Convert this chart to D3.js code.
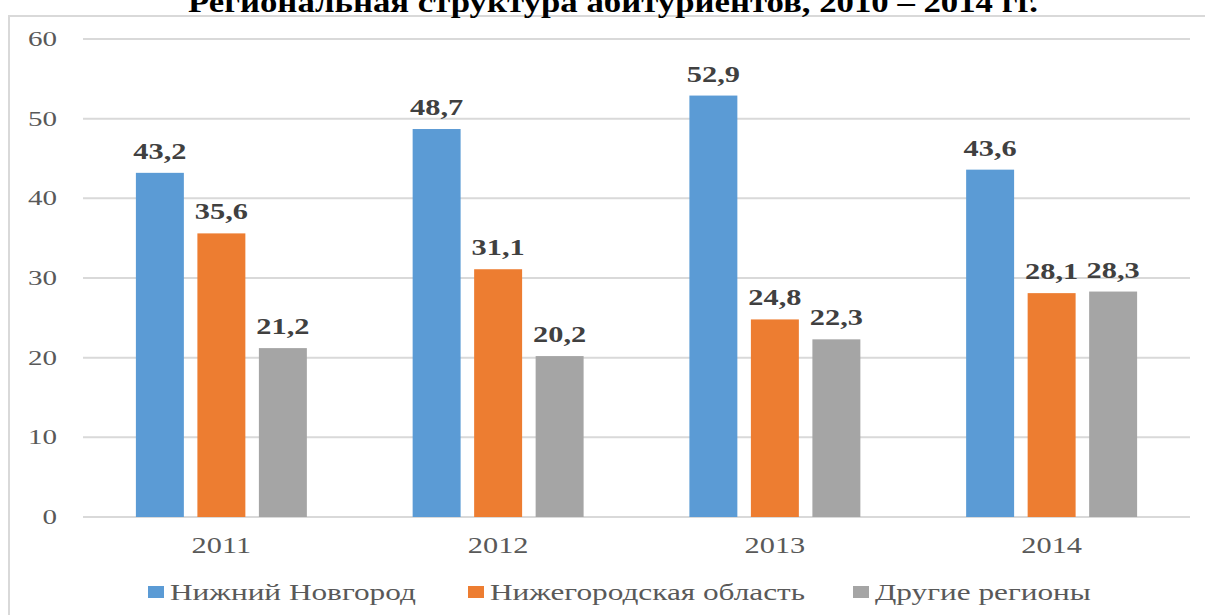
<!DOCTYPE html>
<html>
<head>
<meta charset="utf-8">
<script src="https://cdn.jsdelivr.net/npm/d3@7"></script>
<style>
  body { margin: 0; background: #fff; }
  text { font-family: "Liberation Serif", "Times New Roman", serif; }
</style>
</head>
<body>
<div id="chart"></div>
<script>
const svgWidth = 1205
const svgHeight = 615

const years = ["2011", "2012", "2013", "2014"]
const seriesNames = ["Нижний Новгород", "Нижегородская область", "Другие регионы"]
const nizhnyValues = [43.2, 48.7, 52.9, 43.6]
const oblastValues = [35.6, 31.1, 24.8, 28.1]
const otherValues = [21.2, 20.2, 22.3, 28.3]
const yTicks = [0, 10, 20, 30, 40, 50, 60]
const title = "Региональная структура абитуриентов, 2010 – 2014 гг."

const colors = ["#5B9BD5", "#ED7D31", "#A5A5A5"]
const values = [nizhnyValues, oblastValues, otherValues]

// the picture is stretched sideways, so text gets a horizontal scale
const stretch = 1.32

let plot = { left: 83, right: 1190, top: 39, bottom: 517 }

let svg = d3.select("#chart")
  .append("svg")
  .attr("width", svgWidth)
  .attr("height", svgHeight)

// outer frame (right and bottom edges are off the picture)
svg.append("rect")
  .attr("x", 9)
  .attr("y", 16)
  .attr("width", 1400)
  .attr("height", 800)
  .attr("fill", "none")
  .attr("stroke", "#D9D9D9")
  .attr("stroke-width", 2)

// title, cut off at the top like in the source
svg.append("text")
  .attr("x", 188)
  .attr("y", 12)
  .attr("textLength", 850)
  .attr("lengthAdjust", "spacingAndGlyphs")
  .attr("font-size", "30px")
  .attr("font-weight", "bold")
  .attr("fill", "#000")
  .text(title)

let x0 = d3.scaleBand()
  .domain(years)
  .range([plot.left, plot.right])

let x1 = d3.scaleBand()
  .domain(seriesNames)
  .range([0, x0.bandwidth()])
  .paddingInner(0.22)
  .paddingOuter(0.86)

let y = d3.scaleLinear()
  .domain([0, 60])
  .range([plot.bottom, plot.top])

function stretchedText(parent, x, yPos, str, anchor, sx) {
  return parent.append("text")
    .attr("transform", `translate(${x}, ${yPos}) scale(${sx || stretch}, 1)`)
    .attr("text-anchor", anchor)
    .text(str)
}

// gridlines
svg.append("g")
  .selectAll("line")
  .data(yTicks)
  .enter()
  .append("line")
  .attr("x1", plot.left)
  .attr("x2", plot.right)
  .attr("y1", d => y(d))
  .attr("y2", d => y(d))
  .attr("stroke", "#D9D9D9")
  .attr("stroke-width", 2)

// y tick labels
let yLabels = svg.append("g")
  .attr("font-size", "22px")
  .attr("fill", "#595959")
yTicks.forEach(t => stretchedText(yLabels, 57, y(t) + 7, t, "end"))

// bars
let groups = svg.append("g")
  .selectAll("g")
  .data(years)
  .enter()
  .append("g")
  .attr("transform", d => `translate(${x0(d)}, 0)`)

groups.selectAll("rect")
  .data((d, i) => seriesNames.map((s, k) => ({ series: s, k: k, value: values[k][i] })))
  .enter()
  .append("rect")
  .attr("x", d => x1(d.series))
  .attr("y", d => y(d.value))
  .attr("width", x1.bandwidth())
  .attr("height", d => y(0) - y(d.value))
  .attr("fill", d => colors[d.k])

// value labels
let valueLabels = svg.append("g")
  .attr("font-size", "23px")
  .attr("font-weight", "bold")
  .attr("fill", "#404040")
years.forEach((yr, i) => {
  seriesNames.forEach((s, k) => {
    let v = values[k][i]
    stretchedText(valueLabels, x0(yr) + x1(s) + x1.bandwidth() / 2, y(v) - 14,
      v.toFixed(1).replace(".", ","), "middle")
  })
})

// category labels
let catLabels = svg.append("g")
  .attr("font-size", "23px")
  .attr("fill", "#595959")
years.forEach(yr => stretchedText(catLabels, x0(yr) + x0.bandwidth() / 2, 553, yr, "middle"))

// legend
let legend = svg.append("g")
  .attr("font-size", "23px")
  .attr("fill", "#595959")
let legendStarts = [148, 468, 853]
seriesNames.forEach((s, k) => {
  legend.append("rect")
    .attr("x", legendStarts[k])
    .attr("y", 586)
    .attr("width", 16)
    .attr("height", 12)
    .attr("fill", colors[k])
  stretchedText(legend, legendStarts[k] + 22, 600, s, "start", 1.36)
})
</script>
</body>
</html>
